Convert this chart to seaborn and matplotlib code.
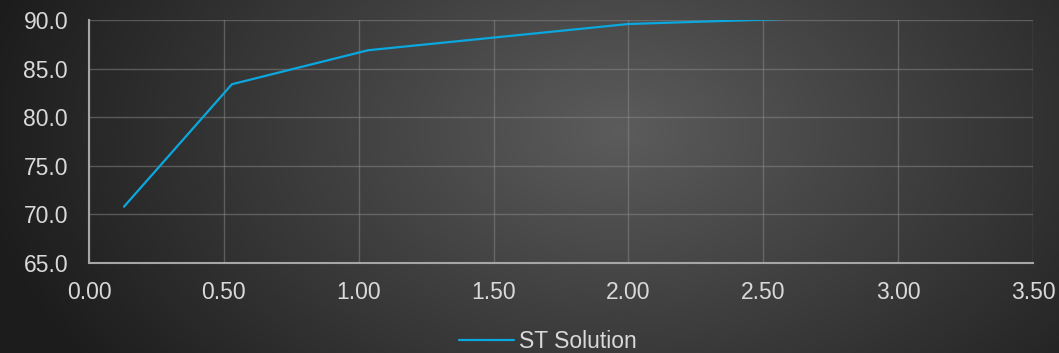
import numpy as np
import pandas as pd
import matplotlib
matplotlib.use("Agg")
import matplotlib.pyplot as plt
import seaborn as sns

# valores
x_vals = [0.13, 0.53, 1.035, 2.0, 2.56]
y_vals = [70.8, 83.4, 86.9, 89.6, 90.1]
serie = "ST Solution"

df = pd.DataFrame({"x": x_vals, "y": y_vals, "serie": serie})

sns.set_style("dark")
plt.rcParams['font.family'] = ['Liberation Sans', 'DejaVu Sans']

fig = plt.figure(figsize=(10.59, 3.53), dpi=100)

# fundo com gradiente radial
bg = fig.add_axes([0, 0, 1, 1])
gx, gy = np.meshgrid(np.linspace(0, 1059, 400), np.linspace(0, 353, 150))
r = np.sqrt(((gx - 620) / 650) ** 2 + ((gy - 130) / 420) ** 2)
r = np.clip(r, 0, 1)
val = 0.36 - 0.25 * r
bg.imshow(np.dstack([val, val, val]), extent=[0, 1059, 353, 0], aspect="auto")
bg.axis("off")

ax = fig.add_axes([0.084, 0.255, 0.8915, 0.688])
ax.patch.set_alpha(0)
sns.lineplot(data=df, x="x", y="y", hue="serie", palette=["#0AA8DE"],
             linewidth=1.6, ax=ax)

ax.set_xlim(0, 3.5)
ax.set_ylim(65, 90)
ax.set_xticks(np.arange(0, 3.51, 0.5))
ax.set_yticks(np.arange(65, 90.1, 5))
ax.set_xticklabels([f"{v:.2f}" for v in np.arange(0, 3.51, 0.5)])
ax.set_yticklabels([f"{v:.1f}" for v in np.arange(65, 90.1, 5)])
ax.tick_params(colors="#d9d9d9", labelsize=16.5, length=0)
ax.tick_params(axis="y", pad=15)
ax.tick_params(axis="x", pad=13)
ax.grid(True, color="#8a8a8a", alpha=0.5, linewidth=1)
ax.set_xlabel("")
ax.set_ylabel("")
for side in ["top", "right"]:
    ax.spines[side].set_visible(False)
for side in ["left", "bottom"]:
    ax.spines[side].set_visible(True)
    ax.spines[side].set_color("#a6a6a6")
    ax.spines[side].set_linewidth(1.5)

leg = ax.legend(loc="center", bbox_to_anchor=(0.486, -0.325), frameon=False,
                fontsize=16.5, handlelength=2.4, handletextpad=0.2,
                borderpad=0, borderaxespad=0)
for t in leg.get_texts():
    t.set_color("#d9d9d9")

fig.savefig("out.png", dpi=100)
